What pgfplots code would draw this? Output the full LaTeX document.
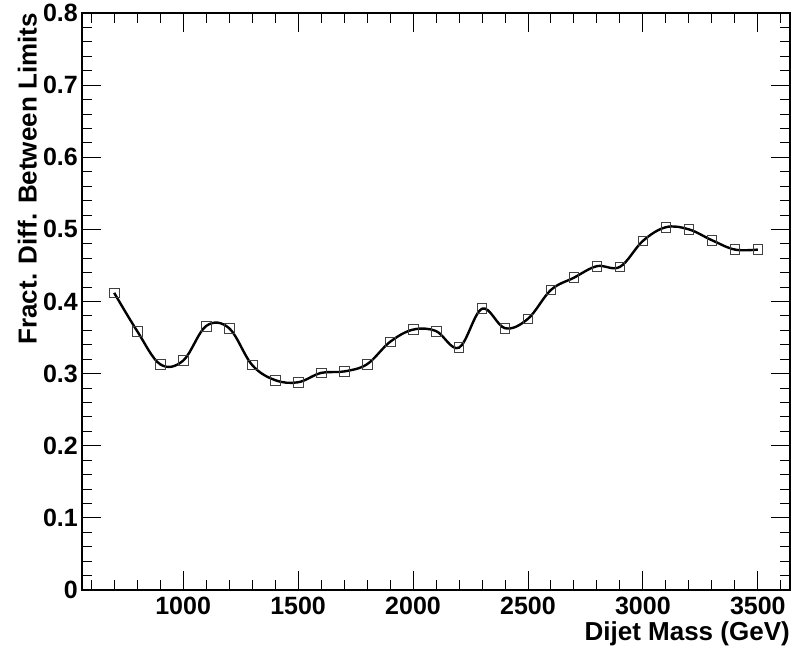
\documentclass[border=0pt]{standalone}
\usepackage{pgfplots}
\pgfplotsset{compat=1.18}
\usepackage{fontspec}
\setmainfont{Liberation Sans}

\pgfplotstableread{
mass  frac
700   0.412
800   0.359
900   0.313
1000  0.318
1100  0.366
1200  0.363
1300  0.312
1400  0.291
1500  0.288
1600  0.301
1700  0.303
1800  0.313
1900  0.344
2000  0.361
2100  0.359
2200  0.336
2300  0.390
2400  0.363
2500  0.376
2600  0.416
2700  0.433
2800  0.449
2900  0.448
3000  0.484
3100  0.503
3200  0.500
3300  0.485
3400  0.472
3500  0.472
}\fracdiff

\begin{document}
\begin{tikzpicture}
\begin{axis}[
  scale only axis,
  width=708pt, height=577pt,
  xmin=560, xmax=3640,
  ymin=0, ymax=0.8,
  xtick={1000,1500,...,3500},
  minor xtick={600,700,...,3600},
  ytick={0,0.1,...,0.8},
  minor ytick={0.02,0.04,0.06,0.08,0.12,0.14,0.16,0.18,0.22,0.24,0.26,0.28,0.32,0.34,0.36,0.38,0.42,0.44,0.46,0.48,0.52,0.54,0.56,0.58,0.62,0.64,0.66,0.68,0.72,0.74,0.76,0.78},
  yticklabel style={/pgf/number format/fixed},
  /pgf/number format/1000 sep={},
  /pgf/number format/assume math mode=true,
  tick align=inside,
  major tick length=19pt,
  minor tick length=10pt,
  every tick/.style={black, line width=0.9pt},
  axis line style={line width=1.3pt},
  scaled x ticks=false,
  x tick label style={font=\fontsize{25}{29}\selectfont\bfseries, inner sep=0pt, anchor=north, yshift=-7pt},
  y tick label style={font=\fontsize{25}{29}\selectfont\bfseries, inner sep=0pt, anchor=east, xshift=-4pt},
  xlabel={Dijet Mass (GeV)},
  ylabel={Fract. Diff. Between Limits},
  every axis x label/.style={at={(rel axis cs:1,0)}, anchor=north east, inner sep=0pt, yshift=-31pt, font=\fontsize{26}{30}\selectfont\bfseries},
  every axis y label/.style={at={(rel axis cs:-0.0636,1)}, rotate=90, anchor=south east, inner sep=0pt, font=\fontsize{26}{30}\selectfont\bfseries},
  clip=false,
]
\addplot[only marks, mark=square, mark size=4.9pt, mark options={draw=black!75, line width=0.8pt}] table[x=mass, y=frac] {\fracdiff};
\addplot[no marks, smooth, tension=0.6, black, line width=2.4pt] table[x=mass, y=frac] {\fracdiff};
\end{axis}
\path (current axis.south west) ++(-82pt,-60pt) rectangle ++(804pt,650pt);
\end{tikzpicture}
\end{document}
